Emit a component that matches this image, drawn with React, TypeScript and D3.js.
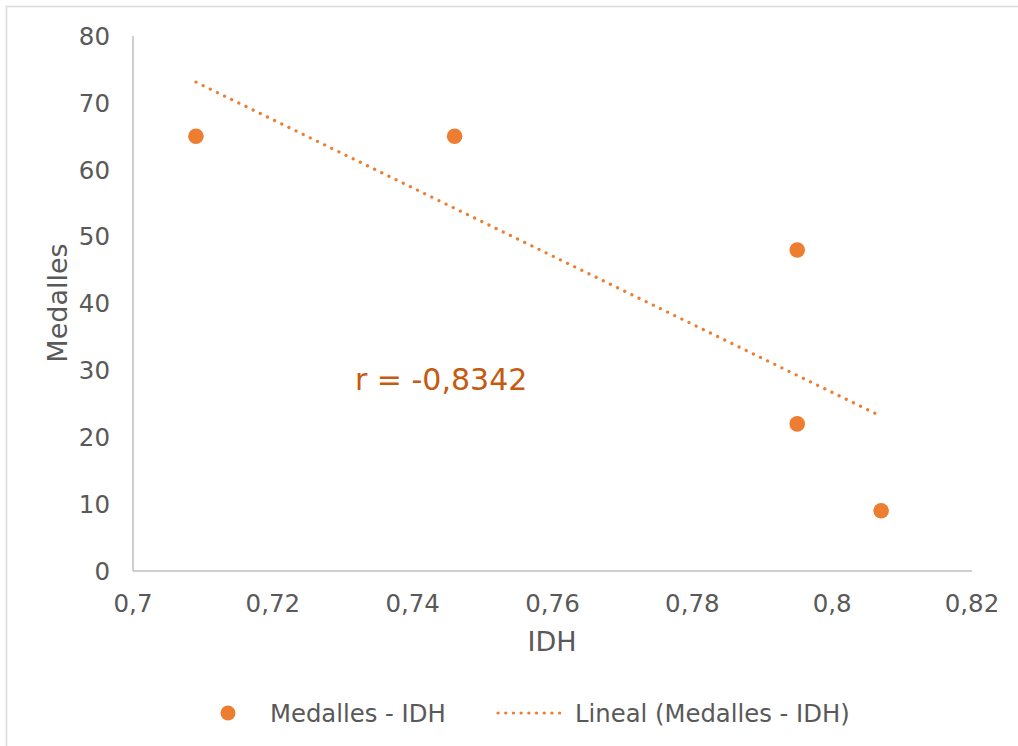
import React from "react";
import * as d3 from "d3";

const idh = [0.709, 0.746, 0.795, 0.795, 0.807];
const medalles = [65, 65, 48, 22, 9];
const xTicks = [0.7, 0.72, 0.74, 0.76, 0.78, 0.8, 0.82];
const yTicks = [0, 10, 20, 30, 40, 50, 60, 70, 80];
const seriesName = "Medalles - IDH";
const trendName = "Lineal (Medalles - IDH)";
const rLabel = "r = -0,8342";

const W = 1018;
const H = 746;
const FONT = "'DejaVu Sans', Verdana, sans-serif";
const ORANGE = "#ED7D31";
const TEXT = "#595959";

export default function App() {
  const x = d3.scaleLinear().domain([0.7, 0.82]).range([133, 972]);
  const y = d3.scaleLinear().domain([0, 80]).range([571, 36]);

  const mx = d3.mean(idh)!;
  const my = d3.mean(medalles)!;
  let sxy = 0, sxx = 0;
  idh.forEach((v, i) => {
    sxy += (v - mx) * (medalles[i] - my);
    sxx += (v - mx) * (v - mx);
  });
  const slope = sxy / sxx;
  const icpt = my - slope * mx;
  const x0 = d3.min(idh)!;
  const x1 = d3.max(idh)!;
  const line = d3.line<number>().x((d) => x(d)).y((d) => y(icpt + slope * d));
  const fmt = (v: number) => String(+v.toFixed(2)).replace(".", ",");

  return (
    <svg width={W} height={H} style={{ position: "absolute", left: 0, top: 0, background: "#fff" }} fontFamily={FONT}>
      <rect x={0} y={0} width={W} height={H} fill="#fff" />
      <rect x={6.5} y={6.5} width={W + 50} height={H + 50} fill="none" stroke="#d9d9d9" strokeWidth={1.5} />
      {/* axes */}
      <line x1={x(0.7)} x2={x(0.7)} y1={y(80)} y2={y(0)} stroke="#bfbfbf" strokeWidth={1.5} />
      <line x1={x(0.7)} x2={x(0.82)} y1={y(0)} y2={y(0)} stroke="#bfbfbf" strokeWidth={1.5} />
      {yTicks.map((t) => (
        <text key={t} x={110} y={y(t)} dy="0.36em" textAnchor="end" fontSize={24.5} fill={TEXT}>
          {t}
        </text>
      ))}
      {xTicks.map((t) => (
        <text key={t} x={x(t)} y={612} textAnchor="middle" fontSize={24.5} fill={TEXT}>
          {fmt(t)}
        </text>
      ))}
      <text x={552} y={651} textAnchor="middle" fontSize={27} fill={TEXT}>IDH</text>
      <text transform={`translate(67,303) rotate(-90)`} textAnchor="middle" fontSize={27} fill={TEXT}>Medalles</text>
      {/* trendline */}
      <path
        d={line([x0, x1]) || ""}
        fill="none"
        stroke={ORANGE}
        strokeWidth={3.2}
        strokeLinecap="round"
        strokeDasharray="0.1 7.85"
      />
      {idh.map((v, i) => (
        <circle key={i} cx={x(v)} cy={y(medalles[i])} r={7.8} fill={ORANGE} />
      ))}
      <text x={355} y={390} fontSize={30} fill="#C55A11">{rLabel}</text>
      {/* legend */}
      <circle cx={228} cy={713} r={7.5} fill={ORANGE} />
      <text x={270} y={722} fontSize={24.3} fill={TEXT}>{seriesName}</text>
      <line x1={498} x2={567} y1={713} y2={713} stroke={ORANGE} strokeWidth={3.2} strokeLinecap="round" strokeDasharray="0.1 7.6" />
      <text x={575} y={722} fontSize={24.3} fill={TEXT}>{trendName}</text>
    </svg>
  );
}
